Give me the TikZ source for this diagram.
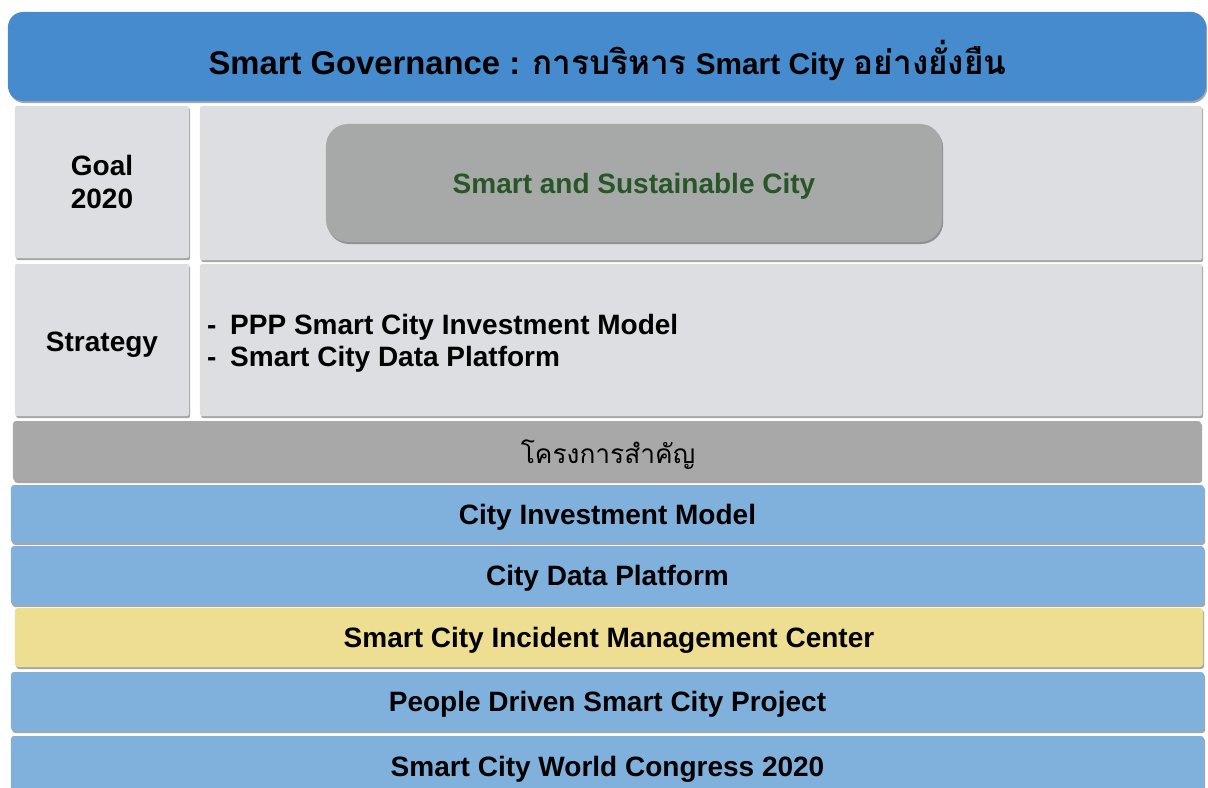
\documentclass[tikz,border=0pt]{standalone}
\usepackage{fontspec}
\setmainfont{Liberation Sans}
\newfontfamily\thai[Script=Thai]{Loma}
\usetikzlibrary{shadows}
\definecolor{hdrblue}{RGB}{69,139,206}
\definecolor{panelgrey}{RGB}{221,222,226}
\definecolor{goalgrey}{RGB}{166,169,168}
\definecolor{goalgreen}{RGB}{40,86,40}
\definecolor{bargrey}{RGB}{168,168,168}
\definecolor{rowblue}{RGB}{128,176,220}
\definecolor{rowyellow}{RGB}{237,222,146}
\tikzset{
  shad/.style={drop shadow={shadow xshift=1.2bp,shadow yshift=-2bp,fill=black,opacity=0.35}},
  panel/.style={rectangle,rounded corners=2bp,inner sep=0pt,shad,fill=panelgrey,
    font=\bfseries\fontsize{28bp}{33bp}\selectfont,text=black,align=center},
  rowbox/.style={rectangle,rounded corners=3bp,inner sep=0pt,shad,text depth=0pt,
    font=\bfseries\fontsize{28bp}{33bp}\selectfont,text=black},
  txt/.style={inner sep=0pt,font=\bfseries\fontsize{28bp}{33bp}\selectfont,text=black}
}
\begin{document}
\begin{tikzpicture}[x=1bp,y=-1bp]
\useasboundingbox (0,0) rectangle (1208,788);
\begin{scope}
\clip (0,0) rectangle (1208,788);
% header
\node[rowbox,rounded corners=15bp,fill=hdrblue,minimum width=1198bp,minimum height=89bp] (hdr) at (607,56.5) {};
\node[txt,text depth=0pt] (hdrT) at (607.5,57)
  {\fontsize{32.8bp}{36bp}\selectfont Smart Governance : {\thai\fontsize{33.3bp}{36bp}\selectfont การบริหาร} {\fontsize{29.8bp}{36bp}\selectfont Smart City} {\thai\fontsize{33.3bp}{36bp}\selectfont อย่างยั่งยืน}};
% goal row
\node[panel,minimum width=174bp,minimum height=152bp] (goalL) at (102,182) {Goal\\2020};
\node[panel,minimum width=1002bp,minimum height=154bp] (goalR) at (701,183) {};
\node[rowbox,rounded corners=22bp,fill=goalgrey,minimum width=616bp,minimum height=118bp,text=goalgreen] (goal) at (634,183) {Smart and Sustainable City};
% strategy row
\node[panel,minimum width=174bp,minimum height=152bp] (stratL) at (102,340) {};
\node[txt,text depth=0pt] (stratLT) at (102,342) {Strategy};
\node[panel,minimum width=1002bp,minimum height=152bp] (stratR) at (701,340) {};
\node[txt,anchor=west,align=left,font=\bfseries\fontsize{28bp}{32bp}\selectfont] (stratT) at (207,343)
  {\makebox[23bp][l]{-}PPP Smart City Investment Model\\\makebox[23bp][l]{-}Smart City Data Platform};
% projects header
\node[rowbox,fill=bargrey,minimum width=1188bp,minimum height=60bp] (proj) at (607,451) {};
\node[txt,text depth=0pt,font=\thai\fontsize{26.3bp}{30bp}\selectfont] (projT) at (608,451.5) {โครงการสำคัญ};
% rows
\node[rowbox,fill=rowblue,minimum width=1193bp,minimum height=58bp] (r1) at (607.5,514) {City Investment Model};
\node[rowbox,fill=rowblue,minimum width=1193bp,minimum height=59bp] (r2) at (607.5,575.5) {City Data Platform};
\node[rowbox,fill=rowyellow,minimum width=1188bp,minimum height=59bp] (r3) at (609,637.5) {Smart City Incident Management Center};
\node[rowbox,fill=rowblue,minimum width=1193bp,minimum height=59bp] (r4) at (607.5,701.5) {People Driven Smart City Project};
\node[rowbox,fill=rowblue,minimum width=1193bp,minimum height=60bp] (r5) at (607.5,766) {Smart City World Congress 2020};
\end{scope}
\end{tikzpicture}
\end{document}
